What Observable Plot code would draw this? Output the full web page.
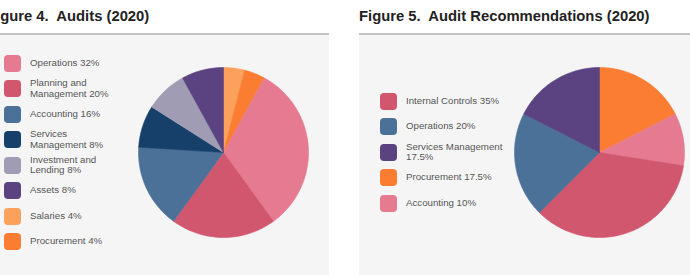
<!DOCTYPE html>
<html><head><meta charset="utf-8">
<script src="https://cdn.jsdelivr.net/npm/d3@7"></script>
<script src="https://cdn.jsdelivr.net/npm/@observablehq/plot@0.6"></script>
<style>
body{margin:0;background:#fff;font-family:"Liberation Sans",Arial,Helvetica,sans-serif;}
#root{position:relative;width:690px;height:275px;overflow:hidden;}
.title{position:absolute;top:7.5px;font-size:14.8px;line-height:17px;font-weight:bold;color:#222;white-space:pre;}
.rule{position:absolute;top:33px;height:2px;background:#c4c4c4;}
.panel{position:absolute;top:35px;height:240px;background:#f5f5f5;}
.row{position:absolute;display:flex;align-items:center;height:17px;}
.sw{width:17px;height:17px;border-radius:4px;flex:none;}
.lab{font-size:9.7px;line-height:10.5px;color:#555;white-space:pre;margin-left:9px;}
.pie{position:absolute;}
</style></head><body><div id="root"></div>
<script>
// ---- Figure 4 data ----
const fig4Title = "Figure 4.  Audits (2020)";
const fig4Categories = ["Operations", "Planning and Management", "Accounting", "Services Management", "Investment and Lending", "Assets", "Salaries", "Procurement"];
const fig4Shares = [32, 20, 16, 8, 8, 8, 4, 4];
const fig4Labels = ["Operations 32%", "Planning and\nManagement 20%", "Accounting 16%", "Services\nManagement 8%", "Investment and\nLending 8%", "Assets 8%", "Salaries 4%", "Procurement 4%"];
const fig4Colors = ["#e67a90", "#d1576f", "#4b7199", "#163f69", "#a09cb4", "#5a4380", "#fba15b", "#fa7d32"];
const fig4PieFirst = 6; // category drawn first, clockwise from 12 o'clock

// ---- Figure 5 data ----
const fig5Title = "Figure 5.  Audit Recommendations (2020)";
const fig5Categories = ["Internal Controls", "Operations", "Services Management", "Procurement", "Accounting"];
const fig5Shares = [35, 20, 17.5, 17.5, 10];
const fig5Labels = ["Internal Controls 35%", "Operations 20%", "Services Management\n17.5%", "Procurement 17.5%", "Accounting 10%"];
const fig5Colors = ["#d1576f", "#4b7199", "#5a4380", "#fa7d32", "#e67a90"];
const fig5PieFirst = 3;

const root = document.getElementById("root");
function el(cls, css, txt){const d=document.createElement("div");d.className=cls;Object.assign(d.style,css);if(txt!=null)d.textContent=txt;root.appendChild(d);return d;}

function pieChart(cats, vals, colors, first, size){
  const n = cats.length;
  const order = d3.range(n).map(i => (i + first) % n);
  const arcs = d3.pie().sort(null).value(i => vals[i])(order);
  const marks = arcs.map(a => {
    const i = a.data;
    const steps = Math.max(2, Math.ceil((a.endAngle - a.startAngle) / (Math.PI / 180)));
    const pts = [{x: 0, y: 0}];
    for (let k = 0; k <= steps; k++) {
      const t = a.startAngle + (a.endAngle - a.startAngle) * k / steps;
      pts.push({x: Math.sin(t), y: Math.cos(t)});
    }
    pts.push({x: 0, y: 0});
    return Plot.line(pts, {x: "x", y: "y", fill: colors[i], stroke: colors[i], strokeWidth: 0.6, title: () => cats[i]});
  });
  return Plot.plot({width: size, height: size, margin: 1, x: {domain: [-1, 1], axis: null}, y: {domain: [-1, 1], axis: null}, marks, style: {background: "transparent", overflow: "visible"}});
}

function panel(cfg){
  el("title", {left: cfg.titleX + "px"}, cfg.title);
  el("rule", {left: cfg.x0 + "px", width: (cfg.x1 - cfg.x0) + "px"});
  el("panel", {left: cfg.x0 + "px", width: (cfg.x1 - cfg.x0) + "px"});
  cfg.labels.forEach((lab, i) => {
    const r = el("row", {left: cfg.legX + "px", top: (cfg.legY + i * 25.5 - 8.5) + "px"});
    const s = document.createElement("div"); s.className = "sw"; s.style.background = cfg.colors[i]; r.appendChild(s);
    const t = document.createElement("div"); t.className = "lab"; t.textContent = lab; r.appendChild(t);
  });
  const size = 172;
  const p = el("pie", {left: (cfg.cx - size / 2) + "px", top: (cfg.cy - size / 2) + "px"});
  p.appendChild(pieChart(cfg.cats, cfg.vals, cfg.colors, cfg.first, size));
}

panel({title: fig4Title, titleX: -13, x0: 0, x1: 329, legX: 4, legY: 63, labels: fig4Labels, colors: fig4Colors, cats: fig4Categories, vals: fig4Shares, first: fig4PieFirst, cx: 223, cy: 152});
panel({title: fig5Title, titleX: 359, x0: 359, x1: 690, legX: 380, legY: 101, labels: fig5Labels, colors: fig5Colors, cats: fig5Categories, vals: fig5Shares, first: fig5PieFirst, cx: 598.5, cy: 152});
</script></body></html>
